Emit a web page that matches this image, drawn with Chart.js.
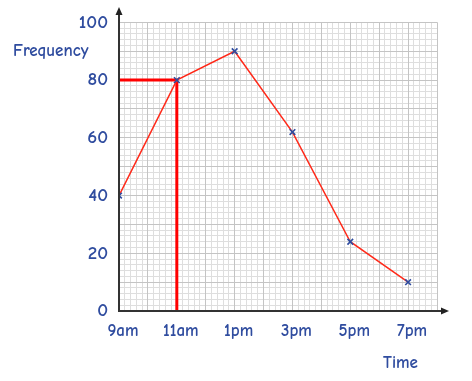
<!DOCTYPE html>
<html>
<head>
<meta charset="utf-8">
<script src="https://cdn.jsdelivr.net/npm/chart.js@4.4.0/dist/chart.umd.min.js"></script>
<style>
  html, body { margin: 0; padding: 0; background: #fff; }
  #wrap { width: 472px; height: 381px; }
</style>
</head>
<body>
<div id="wrap"><canvas id="freqChart" width="472" height="381"></canvas></div>
<script>
// Data
const hours = [9, 11, 13, 15, 17, 19];
const frequency = [40, 80, 90, 62, 24, 10];
const timeLabels = { 9: '9am', 11: '11am', 13: '1pm', 15: '3pm', 17: '5pm', 19: '7pm' };
const yTickLabels = [0, 20, 40, 60, 80, 100];
// reading line: 11am -> 80
const readHour = 11;
const readValue = 80;

const FONT = '"Comic Sans MS", "Comic Neue", Lato, sans-serif';
const BLUE = '#2f4c9f';

// Axis arrows and the free-standing labels
const extrasPlugin = {
    id: 'extras',
    afterDraw(chart) {
        const { ctx, chartArea } = chart;
        const left = chartArea.left, bottom = chartArea.bottom;
        ctx.save();
        ctx.strokeStyle = '#333';
        ctx.fillStyle = '#222';
        ctx.lineWidth = 2;
        // y axis extension + arrow
        ctx.beginPath();
        ctx.moveTo(left, bottom);
        ctx.lineTo(left, 12);
        ctx.stroke();
        ctx.beginPath();
        ctx.moveTo(left, 7);
        ctx.lineTo(left - 3.5, 15);
        ctx.lineTo(left + 3.5, 15);
        ctx.closePath();
        ctx.fill();
        // x axis extension + arrow
        ctx.beginPath();
        ctx.moveTo(left, bottom);
        ctx.lineTo(444, bottom);
        ctx.stroke();
        ctx.beginPath();
        ctx.moveTo(449, bottom);
        ctx.lineTo(441, bottom - 3.5);
        ctx.lineTo(441, bottom + 3.5);
        ctx.closePath();
        ctx.fill();

        ctx.fillStyle = BLUE;
        ctx.font = '600 17px ' + FONT;
        ctx.textBaseline = 'middle';
        ctx.textAlign = 'left';
        ctx.fillText('Frequency', 13, 51);
        ctx.fillText('Time', 383, 363);
        ctx.restore();
    }
};

const points = hours.map((h, i) => ({ x: h, y: frequency[i] }));
const readLine = [
    { x: hours[0], y: readValue },
    { x: readHour, y: readValue },
    { x: readHour, y: 0 }
];

new Chart(document.getElementById('freqChart'), {
    type: 'line',
    data: {
        datasets: [{
            data: readLine,
            borderColor: '#ff0000',
            borderWidth: 3,
            pointRadius: 0,
            tension: 0,
            order: 2
        }, {
            data: points,
            borderColor: '#ff2a1a',
            borderWidth: 1.5,
            tension: 0,
            pointStyle: 'crossRot',
            pointRadius: 4,
            pointBorderColor: BLUE,
            pointBorderWidth: 1.6,
            order: 1
        }]
    },
    options: {
        responsive: false,
        animation: false,
        layout: { padding: { left: 0, top: 22, right: 35, bottom: 0 } },
        plugins: {
            legend: { display: false },
            tooltip: { enabled: false }
        },
        scales: {
            xMinor: {
                type: 'linear',
                position: 'bottom',
                min: 9, max: 20,
                afterFit: s => { s.height = 0; },
                ticks: { display: false, stepSize: 0.2, maxTicksLimit: 200 },
                grid: { color: '#dedede', lineWidth: 1, drawTicks: false },
                border: { display: false }
            },
            yMinor: {
                type: 'linear',
                position: 'left',
                min: 0, max: 100,
                afterFit: s => { s.width = 0; },
                ticks: { display: false, stepSize: 2, maxTicksLimit: 200 },
                grid: { color: '#dedede', lineWidth: 1, drawTicks: false },
                border: { display: false }
            },
            x: {
                type: 'linear',
                position: 'bottom',
                min: 9, max: 20,
                afterFit: s => { s.height = 70; },
                ticks: {
                    stepSize: 1,
                    autoSkip: false,
                    maxRotation: 0,
                    padding: 10,
                    labelOffset: 4,
                    color: BLUE,
                    font: { family: FONT, size: 17, weight: '600' },
                    callback: v => timeLabels[v] || ''
                },
                grid: { color: '#c4c4c4', lineWidth: 1, drawTicks: false },
                border: { color: '#333', width: 2 }
            },
            y: {
                type: 'linear',
                position: 'left',
                min: 0, max: 100,
                afterFit: s => { s.width = 119; },
                ticks: {
                    stepSize: 10,
                    padding: 11,
                    color: BLUE,
                    font: { family: FONT, size: 19, weight: '600' },
                    callback: v => yTickLabels.includes(v) ? String(v) : ''
                },
                grid: { color: '#c4c4c4', lineWidth: 1, drawTicks: false },
                border: { color: '#333', width: 2 }
            }
        }
    },
    plugins: [extrasPlugin]
});
</script>
</body>
</html>
